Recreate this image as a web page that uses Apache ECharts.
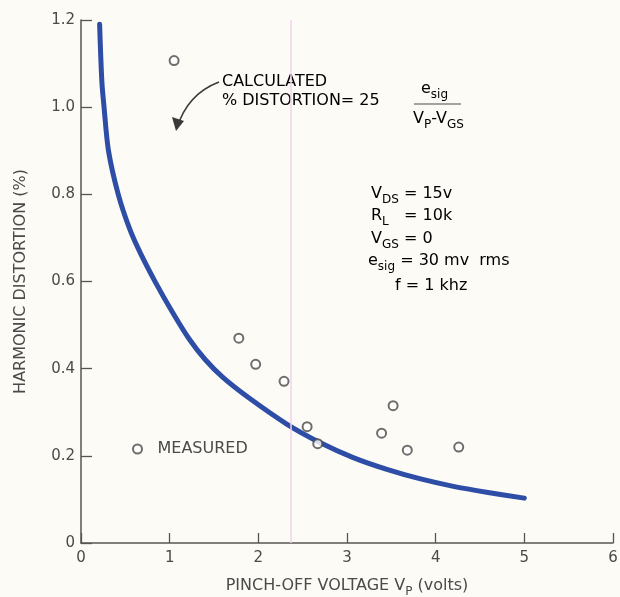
<!DOCTYPE html>
<html>
<head>
<meta charset="utf-8">
<script src="https://cdn.jsdelivr.net/npm/echarts@6/dist/echarts.min.js"></script>
<style>
  html, body { margin: 0; padding: 0; background: #fcfbf5; }
  #chart { width: 620px; height: 597px; }
</style>
</head>
<body>
<div id="chart"></div>
<script>
// Calculated distortion curve (Vp in volts, distortion in %)
const calcVp = [0.21, 0.235, 0.26, 0.31, 0.42, 0.55, 0.67, 0.84, 1.03, 1.22, 1.40, 1.60, 1.90, 2.32, 2.70, 3.07, 3.45, 3.83, 4.20, 4.59, 5.00];
const calcDist = [1.19, 1.06, 1.00, 0.90, 0.80, 0.72, 0.665, 0.598, 0.53, 0.468, 0.421, 0.380, 0.332, 0.273, 0.230, 0.196, 0.169, 0.147, 0.130, 0.116, 0.103];

// Measured points
const measVp = [1.05, 1.78, 1.97, 2.29, 2.55, 2.67, 3.39, 3.52, 3.68, 4.26];
const measDist = [1.107, 0.470, 0.410, 0.371, 0.267, 0.228, 0.252, 0.315, 0.213, 0.220];

// Axis ticks
const xTicks = [0, 1, 2, 3, 4, 5, 6];
const yTicks = [0, 0.2, 0.4, 0.6, 0.8, 1.0, 1.2];

// Scan artifact line position
const artifactVp = [2.37];

const FONT = 'DejaVu Sans';
const TXT = '#4a4a4a';
const AX = '#5a5550';

const chart = echarts.init(document.getElementById('chart'), null, { renderer: 'canvas' });

const calcData = calcVp.map((v, i) => [v, calcDist[i]]);
const measData = measVp.map((v, i) => [v, measDist[i]]);

const main = { fontSize: 16, fontFamily: FONT, color: TXT, lineHeight: 18, verticalAlign: 'top' };
const sub = { fontSize: 12, fontFamily: FONT, color: TXT, lineHeight: 20, verticalAlign: 'bottom' };

chart.setOption({
  backgroundColor: '#fcfbf5',
  animation: false,
  grid: { left: 81, right: 7, top: 20, bottom: 54, outerBoundsMode: 'none', containLabel: false },
  legend: {
    data: [{ name: 'MEASURED', icon: 'emptyCircle' }],
    left: 127, top: 436,
    itemWidth: 30, itemHeight: 9, itemGap: 12,
    textStyle: { fontFamily: FONT, fontSize: 16, color: TXT },
    selectedMode: false
  },
  xAxis: {
    type: 'value', min: 0, max: 6, interval: 1,
    name: '{m|PINCH-OFF VOLTAGE V}{s|P}{m| (volts)}',
    nameLocation: 'middle', nameGap: 35,
    nameTextStyle: { rich: { m: main, s: sub } },
    axisLine: { show: true, onZero: false, lineStyle: { color: AX, width: 1.5 } },
    axisTick: { show: true, inside: true, length: 10, lineStyle: { color: AX, width: 1.3 } },
    axisLabel: { margin: 8, fontFamily: FONT, fontSize: 15, color: TXT,
      formatter: v => xTicks.includes(v) ? String(v) : '' },
    splitLine: { show: false }
  },
  yAxis: {
    type: 'value', min: 0, max: 1.2, interval: 0.2,
    name: 'HARMONIC DISTORTION (%)',
    nameLocation: 'middle', nameGap: 52, nameRotate: 90,
    nameTextStyle: { fontFamily: FONT, fontSize: 16, color: TXT },
    axisLine: { show: true, onZero: false, lineStyle: { color: AX, width: 1.5 } },
    axisTick: { show: true, inside: true, length: 11, lineStyle: { color: AX, width: 1.3 } },
    axisLabel: { margin: 6, fontFamily: FONT, fontSize: 15, color: TXT,
      formatter: v => {
        const t = yTicks.find(y => Math.abs(y - v) < 1e-9);
        if (t === undefined) return '';
        return t === 0 ? '0' : t.toFixed(1);
      } },
    splitLine: { show: false }
  },
  series: [
    {
      name: 'CALCULATED', type: 'line', data: calcData, smooth: 0.3,
      showSymbol: false, symbol: 'none',
      lineStyle: { color: '#2d4da6', width: 5, cap: 'round', join: 'round' },
      z: 3,
      markLine: {
        silent: true, symbol: 'none', label: { show: false },
        lineStyle: { color: '#f3d2ee', width: 1.5, type: 'solid' },
        data: artifactVp.map(v => ({ xAxis: v }))
      }
    },
    {
      name: 'MEASURED', type: 'scatter', data: measData,
      symbol: 'emptyCircle', symbolSize: 9,
      itemStyle: { color: '#4a4a4a', borderColor: '#4a4a4a', borderWidth: 1.3 },
      z: 4
    }
  ],
  graphic: [
    {
      type: 'text', left: 222, top: 74,
      style: { text: '{m|CALCULATED}', rich: { m: main } }
    },
    {
      type: 'text', left: 222, top: 93,
      style: { text: '{m|% DISTORTION= 25}', rich: { m: main } }
    },
    {
      type: 'text', left: 421, top: 81,
      style: { text: '{m|e}{s|sig}', rich: { m: main, s: sub } }
    },
    {
      type: 'line', shape: { x1: 414, y1: 104, x2: 461, y2: 104 },
      style: { stroke: TXT, lineWidth: 1.2 }
    },
    {
      type: 'text', left: 413, top: 111,
      style: { text: '{m|V}{s|P}{m|-V}{s|GS}', rich: { m: main, s: sub } }
    },
    {
      type: 'bezierCurve',
      shape: { x1: 219, y1: 82, cpx1: 198, cpy1: 90, cpx2: 184, cpy2: 105, x2: 177, y2: 128 },
      style: { stroke: '#3a3a3a', lineWidth: 1.5, fill: null }
    },
    {
      type: 'polygon',
      shape: { points: [[176, 131], [172, 117], [184, 121]] },
      style: { fill: '#3a3a3a' }
    },
    {
      type: 'text', left: 371, top: 186,
      style: { text: '{m|V}{s|DS}{m| = 15v}', rich: { m: main, s: sub } }
    },
    {
      type: 'text', left: 371, top: 208,
      style: { text: '{m|R}{s|L}{m|   = 10k}', rich: { m: main, s: sub } }
    },
    {
      type: 'text', left: 371, top: 231,
      style: { text: '{m|V}{s|GS}{m| = 0}', rich: { m: main, s: sub } }
    },
    {
      type: 'text', left: 368, top: 253,
      style: { text: '{m|e}{s|sig}{m| = 30 mv  rms}', rich: { m: main, s: sub } }
    },
    {
      type: 'text', left: 395, top: 278,
      style: { text: '{m|f = 1 khz}', rich: { m: main } }
    }
  ]
});
</script>
</body>
</html>
